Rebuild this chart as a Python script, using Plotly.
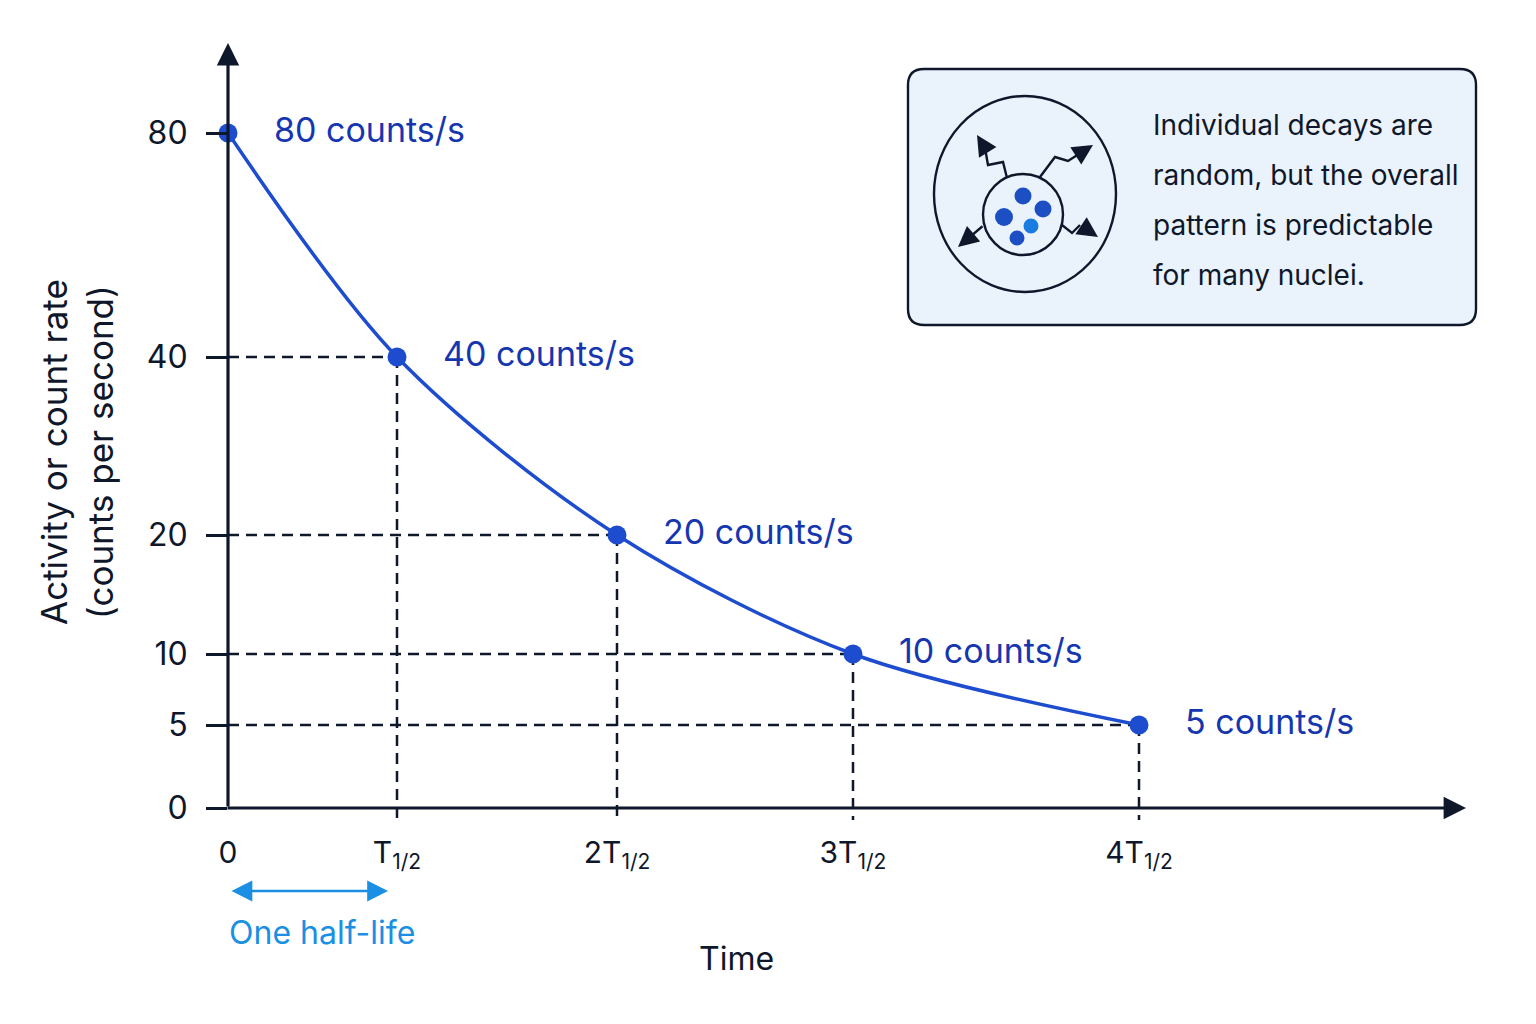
import numpy as np
import plotly.graph_objects as go

# ---
# - data
# ---
half_lives = [0, 1, 2, 3, 4]                 # time in multiples of T1/2
count_rate = [80, 40, 20, 10, 5]             # counts per second
y_tick_values = [0, 5, 10, 20, 40, 80]
y_tick_text = ["0", "5", "10", "20", "40", "80"]
x_tick_text = ["0", "T<sub>1/2</sub>", "2T<sub>1/2</sub>", "3T<sub>1/2</sub>", "4T<sub>1/2</sub>"]
rate_labels = [f"{v} counts/s" for v in count_rate]
note_lines = ["Individual decays are", "random, but the overall",
              "pattern is predictable", "for many nuclei."]

# ---
# - the picture uses an uneven scale on both axes; these are the
# - screen offsets (px from the origin) of each tick
# ---
X_TICK_POS = [0, 169, 389, 625, 911]
Y_TICK_POS = [0, 83, 154, 273, 451, 675]

NAVY = "#0f172a"
BLUE = "#1d4ccf"
LABEL_BLUE = "#1636b0"
SKY = "#1a8fe3"
FONT = "Inter"

# plot area on the page (the page body adds 8px round the figure)
PL, PT, PR, PB = 228, 38, 1506, 832
ORIGIN_Y = 808


def sx(v):
    return np.interp(v, half_lives, X_TICK_POS)


def sy(v):
    return np.interp(v, y_tick_values, Y_TICK_POS)


xs = sx(half_lives)
ys = sy(count_rate)


# page pixel -> axis units (1 unit per px)
def px(x):
    return x - PL


def py(y):
    return ORIGIN_Y - y


# page pixel -> paper fraction (for things outside the axis ranges)
def ppx(x):
    return (x - PL) / (PR - PL)


def ppy(y):
    return (PB - y) / (PB - PT)


fig = go.Figure()

# dashed guide lines
gx, gy = [], []
for xv, yv in zip(xs[1:], ys[1:]):
    gx += [0, xv, None, xv, xv, None]
    gy += [yv, yv, None, yv, -12, None]
fig.add_trace(go.Scatter(x=gx, y=gy, mode="lines", hoverinfo="skip",
                         line=dict(color=NAVY, width=2.5, dash="11px,7px")))

# decay curve + points
fig.add_trace(go.Scatter(x=xs, y=ys, mode="lines",
                         line=dict(color=BLUE, width=3.5, shape="spline", smoothing=0.9)))
fig.add_trace(go.Scatter(x=xs, y=ys, mode="markers", cliponaxis=False,
                         marker=dict(color=BLUE, size=19)))

ann = []
for xv, yv, t in zip(xs, ys, rate_labels):
    ann.append(dict(x=xv, y=yv, text=t, showarrow=False, xanchor="left",
                    xshift=44, yshift=4, font=dict(size=34, color=LABEL_BLUE, family=FONT)))

# axes with arrow heads
ann.append(dict(x=0, y=py(43), ax=0, ay=0, axref="x", ayref="y", text="",
                showarrow=True, arrowhead=2, arrowsize=1.4, arrowwidth=3.2, arrowcolor=NAVY))
ann.append(dict(x=px(1466), y=0, ax=-2, ay=0, axref="x", ayref="y", text="",
                showarrow=True, arrowhead=2, arrowsize=1.4, arrowwidth=3.2, arrowcolor=NAVY))

# one half-life marker
ann.append(dict(x=xs[1] - 9, y=ppy(891), xref="x", yref="paper",
                ax=-(xs[1] - 11), ay=0, text="",
                showarrow=True, arrowhead=2, startarrowhead=2, arrowside="end+start",
                arrowsize=1.6, startarrowsize=1.6, arrowwidth=2.6, arrowcolor=SKY))
ann.append(dict(x=px(322), y=ppy(932), xref="x", yref="paper", text="One half-life",
                xanchor="center", yanchor="middle", showarrow=False,
                font=dict(size=32, color=SKY, family=FONT)))

# axis titles
ann.append(dict(x=px(736), y=ppy(958), xref="x", yref="paper", text="Time",
                xanchor="center", yanchor="middle", showarrow=False,
                font=dict(size=32, color=NAVY, family=FONT)))
ann.append(dict(x=ppx(77), y=py(452), xref="paper", yref="y",
                text="Activity or count rate<br>(counts per second)",
                xanchor="center", yanchor="middle", textangle=-90, showarrow=False,
                font=dict(size=35, color=NAVY, family=FONT)))

# note box text
for i, line in enumerate(note_lines):
    ann.append(dict(x=px(1151), y=py(125 + 50 * i), text=line, showarrow=False,
                    xanchor="left", font=dict(size=28, color=NAVY, family=FONT)))

shapes = []
# note box with rounded corners
bx0, bx1, by0, by1, r = px(908), px(1476), py(325), py(69), 16
shapes.append(dict(
    type="path", xref="x", yref="y", layer="below",
    path=(f"M {bx0+r} {by0} L {bx1-r} {by0} Q {bx1} {by0} {bx1} {by0+r} "
          f"L {bx1} {by1-r} Q {bx1} {by1} {bx1-r} {by1} L {bx0+r} {by1} "
          f"Q {bx0} {by1} {bx0} {by1-r} L {bx0} {by0+r} Q {bx0} {by0} {bx0+r} {by0} Z"),
    fillcolor="#eaf3fc", line=dict(color=NAVY, width=2.4)))

# nucleus icon
shapes.append(dict(type="circle", xref="x", yref="y", x0=px(934), x1=px(1116),
                   y0=py(292), y1=py(96), line=dict(color=NAVY, width=2.4)))
shapes.append(dict(type="circle", xref="x", yref="y", x0=px(983), x1=px(1063),
                   y0=py(255), y1=py(174), fillcolor="#eaf3fc", line=dict(color=NAVY, width=2.4)))
for cx, cy, rr, col in [(1023, 196, 8.5, "#1d4fc4"), (1043, 209, 8.5, "#1d4fc4"),
                        (1004, 217, 9, "#1d4fc4"), (1031, 226, 7.5, "#1a7be0"),
                        (1017, 238, 7.5, "#1d4fc4")]:
    shapes.append(dict(type="circle", xref="x", yref="y", x0=px(cx - rr), x1=px(cx + rr),
                       y0=py(cy + rr), y1=py(cy - rr), fillcolor=col, line=dict(width=0)))

zigzags = [
    [(1007, 178), (1003, 162), (988, 165), (985, 148), (977, 135)],
    [(1040, 177), (1055, 157), (1068, 161), (1082, 152), (1093, 145)],
    [(984, 225), (958, 247)],
    [(1062, 225), (1072, 233), (1080, 225), (1098, 237)],
]
for pts in zigzags:
    p = " ".join(("M" if i == 0 else "L") + f" {px(a)} {py(b)}" for i, (a, b) in enumerate(pts[:-1]))
    if len(pts) > 2:
        shapes.append(dict(type="path", xref="x", yref="y", path=p,
                           line=dict(color=NAVY, width=2.4)))
    ann.append(dict(x=px(pts[-1][0]), y=py(pts[-1][1]), ax=px(pts[-2][0]), ay=py(pts[-2][1]),
                    axref="x", ayref="y", text="", showarrow=True, arrowhead=2,
                    arrowsize=1.7, arrowwidth=2.4, arrowcolor=NAVY))

fig.update_layout(
    width=1520, height=1008,
    margin=dict(l=PL - 8, r=1528 - PR, t=PT - 8, b=1016 - PB),
    plot_bgcolor="white", paper_bgcolor="white",
    showlegend=False,
    font=dict(family=FONT, color=NAVY),
    annotations=ann, shapes=shapes,
    xaxis=dict(range=[0, PR - PL], showgrid=False, zeroline=False, showline=False,
               tickmode="array", tickvals=xs, ticktext=x_tick_text, ticks="",
               tickfont=dict(size=30, color=NAVY, family=FONT)),
    yaxis=dict(range=[ORIGIN_Y - PB, ORIGIN_Y - PT], showgrid=False, zeroline=False,
               showline=False, tickmode="array", tickvals=sy(y_tick_values),
               ticktext=y_tick_text, ticks="outside", ticklen=21, tickwidth=2.6,
               tickcolor=NAVY, ticklabelstandoff=12,
               tickfont=dict(size=32, color=NAVY, family=FONT)),
)

fig.write_html("out.html")
